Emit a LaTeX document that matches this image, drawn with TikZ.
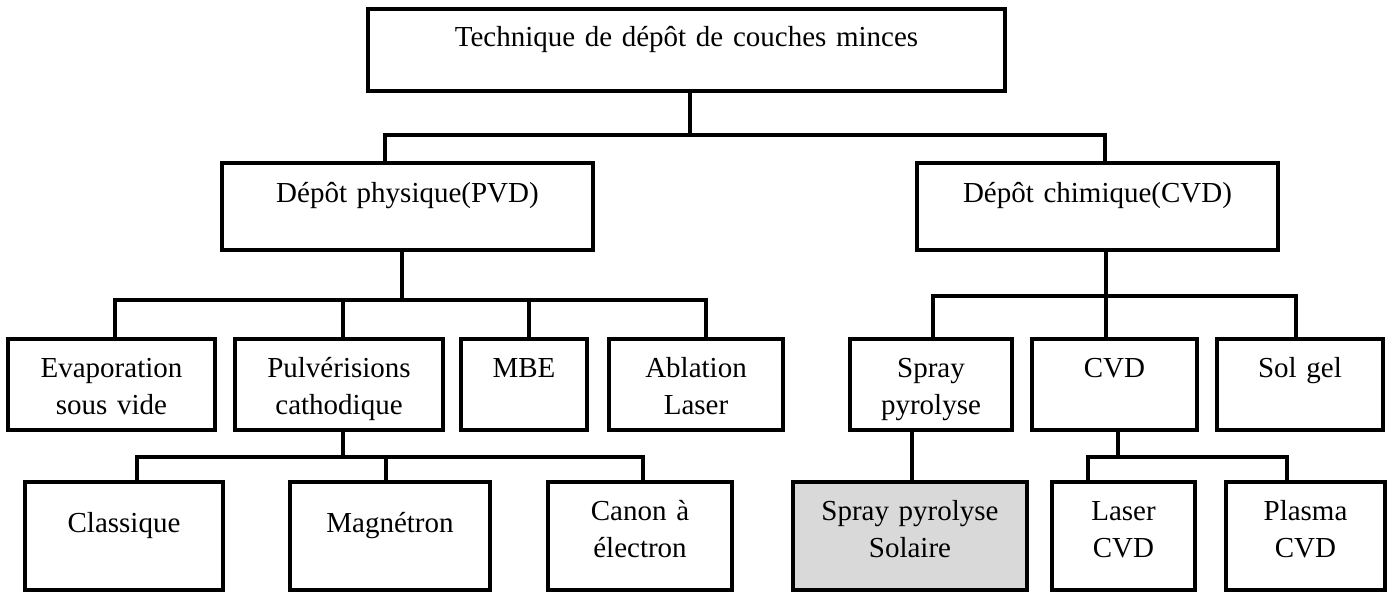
\documentclass[tikz,border=0pt]{standalone}
\usepackage{fontspec}
\setmainfont{Liberation Serif}
\usetikzlibrary{positioning}
\definecolor{boxgray}{HTML}{D9D9D9}

\tikzset{
	box/.style={draw, line width=2.3pt, anchor=north west, inner sep=0pt, outer sep=0pt, align=center,
		font=\fontsize{14.5}{18.5}\selectfont, text width=#1},
	lvltop/.style={text height=19pt, text depth=22pt},
	lvlmid/.style={text height=20pt, text depth=23.5pt},
	lvlrow/.style={text height=19.5pt, text depth=26pt},
	lvlleaf/.style={text height=19.5pt, text depth=34.5pt},
	lvlsingle/.style={text height=25.5pt, text depth=28.5pt},
	conn/.style={line width=2.3pt}
}

\begin{document}
\begin{tikzpicture}[x=0.5pt, y=-0.5pt]
	\useasboundingbox (0,0) rectangle (1392,592);
	
	\node[box=318.5pt, lvltop] (top) at (368,9) {Technique de dépôt de couches minces};
	
	\node[box=185.5pt, lvlmid] (pvd) at (222,163) {Dépôt physique(PVD)};
	\node[box=180.5pt, lvlmid] (cvd) at (917,163) {Dépôt chimique(CVD)};
	
	% physical methods
	\node[box=103.5pt, lvlrow] (evap) at (8,339) {Evaporation\\sous vide};
	\node[box=104pt, lvlrow] (pulv) at (235,339) {Pulvérisions\\cathodique};
	\node[box=63pt, lvlrow] (mbe) at (461,339) {MBE};
	\node[box=87pt, lvlrow] (abl) at (609,339) {Ablation\\Laser};
	
	% chemical methods
	\node[box=81pt, lvlrow] (spray) at (850,339) {Spray\\pyrolyse};
	\node[box=82.5pt, lvlrow] (cvdm) at (1032,339) {CVD};
	\node[box=83pt, lvlrow] (solgel) at (1217,339) {Sol gel};
	
	% leaves
	\node[box=99pt, lvlsingle] (classique) at (25,482) {Classique};
	\node[box=100pt, lvlsingle] (magnetron) at (290,482) {Magnétron};
	\node[box=92pt, lvlleaf] (canon) at (548,482) {Canon à\\électron};
	\node[box=117pt, lvlleaf, fill=boxgray] (solaire) at (793,482) {Spray pyrolyse\\Solaire};
	\node[box=71.5pt, lvlleaf] (laser) at (1052,482) {Laser\\CVD};
	\node[box=79.5pt, lvlleaf] (plasma) at (1226,482) {Plasma\\CVD};
	
	% top level
	\draw[conn] ([xshift=1.75pt]top.south) -- ++(0,44);
	\draw[conn] ([xshift=-11.25pt]pvd.north) -- ++(0,-28) -| ([xshift=3.75pt]cvd.north);
	
	% PVD
	\draw[conn] ([xshift=-2.75pt]pvd.south) -- ++(0,50);
	\draw[conn] ([xshift=1.75pt]evap.north) -- ++(0,-39) -| ([xshift=5pt]abl.north);
	\foreach \n/\s in {pulv/2pt, mbe/2.5pt}
	\draw[conn] ([xshift=\s]\n.north) -- ++(0,-39);
	
	% CVD
	\draw[conn] ([xshift=4.25pt]cvd.south) -- ++(0,46);
	\draw[conn] ([xshift=1pt]spray.north) -- ++(0,-43) -| ([xshift=-2pt]solgel.north);
	\draw[conn] ([xshift=-4.25pt]cvdm.north) -- ++(0,-43);
	
	% sputtering
	\draw[conn] ([xshift=2pt]pulv.south) -- ++(0,27);
	\draw[conn] ([xshift=6.5pt]classique.north) -- ++(0,-25) -| ([xshift=1.5pt]canon.north);
	\draw[conn] ([xshift=-2pt]magnetron.north) -- ++(0,-25);
	
	\draw[conn] ([xshift=1pt]solaire.north) -- ++(0,-52);
	
	\draw[conn] ([xshift=1.75pt]cvdm.south) -- ++(0,27);
	\draw[conn] ([xshift=-17.75pt]laser.north) -- ++(0,-25) -| ([xshift=-9.25pt]plasma.north);
\end{tikzpicture}
\end{document}
